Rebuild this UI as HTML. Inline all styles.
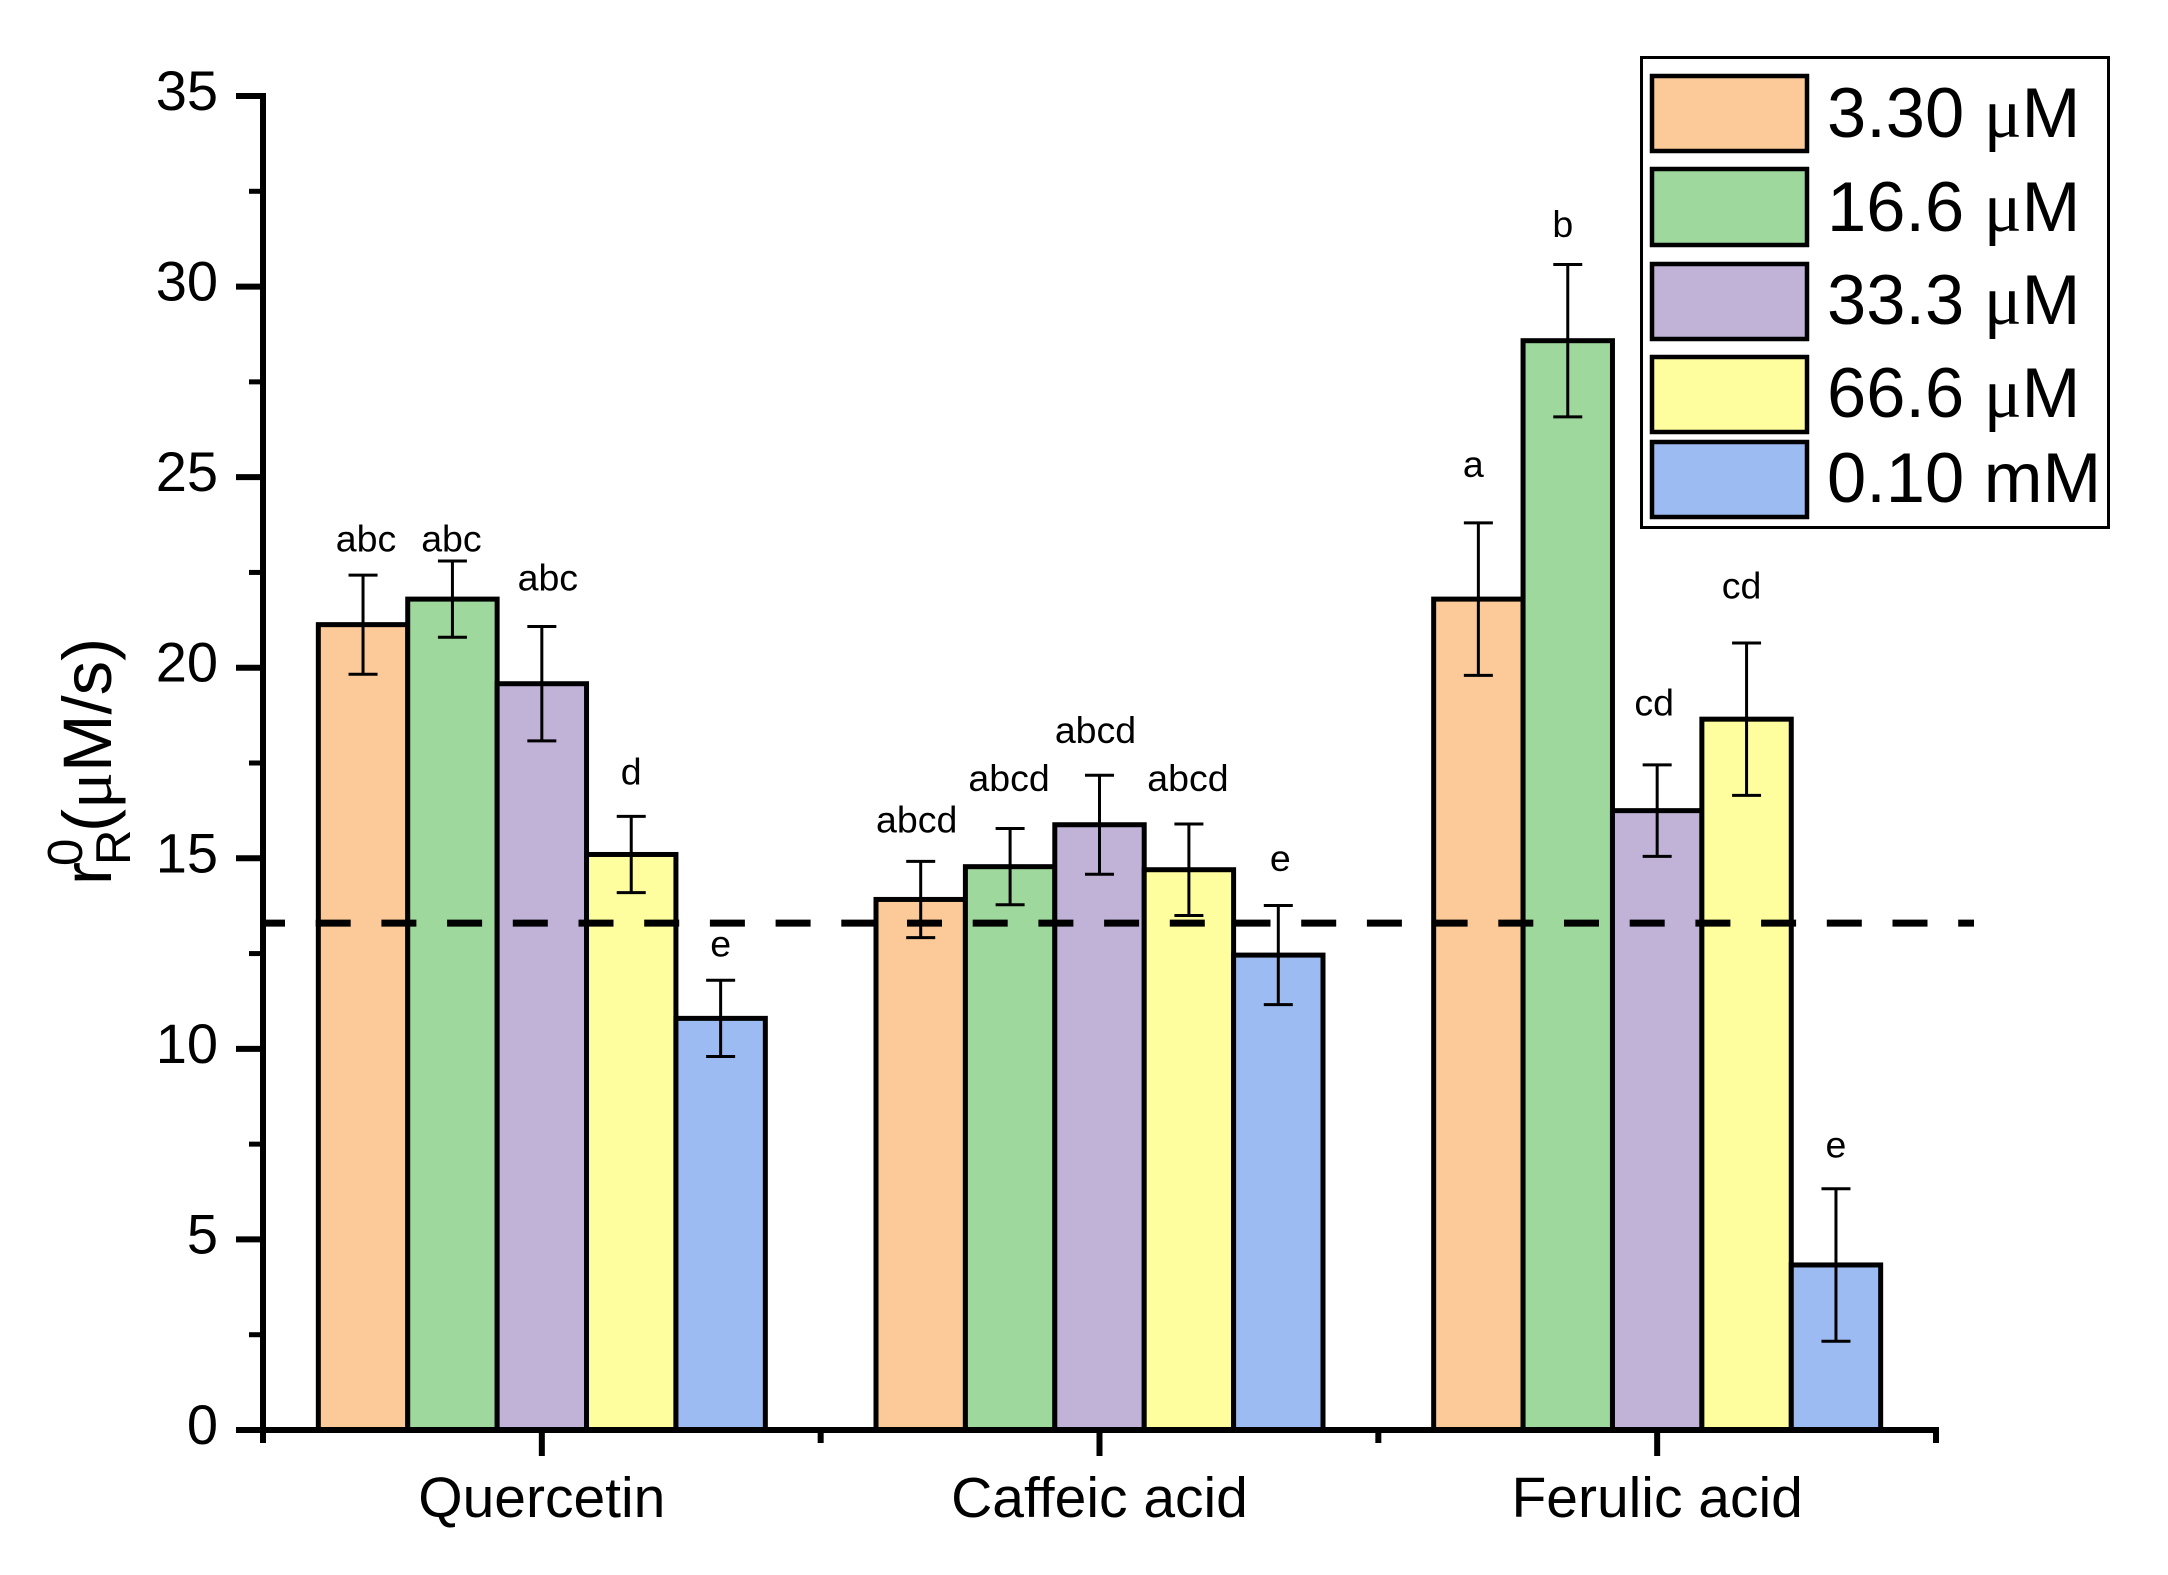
<!DOCTYPE html>
<html lang="en">
<head>
<meta charset="utf-8">
<title>Bar chart of rR0 by compound and concentration</title>
<style>
html,body{margin:0;padding:0;background:#fff;}
svg{display:block;}
text{font-family:"Liberation Sans",sans-serif;fill:#000;}
.mu{font-family:"Liberation Serif",serif;}
.lg{font-size:70.5px;}
</style>
</head>
<body>
<svg id="chart" xmlns="http://www.w3.org/2000/svg" width="2168" height="1575" viewBox="0 0 2168 1575">
  <rect x="0" y="0" width="2168" height="1575" fill="#fff"/>
  <g id="plot"></g>
  <g transform="translate(111,885) rotate(-90)">
    <text x="0" y="0" font-size="69">r</text>
    <text x="20" y="19" font-size="49">R</text>
    <text x="19" y="-29" font-size="49">0</text>
    <text x="53" y="0" font-size="69">(<tspan class="mu">μ</tspan>M/s)</text>
  </g>
  <g>
    <rect x="1641.5" y="57.5" width="467" height="470" fill="#fff" stroke="#000" stroke-width="3"/>
    <rect x="1652" y="76" width="155" height="75" fill="#FCC998" stroke="#000" stroke-width="4.5"/>
    <text class="lg" x="1827" y="137">3.30 <tspan class="mu">μ</tspan>M</text>
    <rect x="1652" y="169" width="155" height="76" fill="#9FD89D" stroke="#000" stroke-width="4.5"/>
    <text class="lg" x="1827" y="231">16.6 <tspan class="mu">μ</tspan>M</text>
    <rect x="1652" y="264" width="155" height="75" fill="#C1B3D7" stroke="#000" stroke-width="4.5"/>
    <text class="lg" x="1827" y="324">33.3 <tspan class="mu">μ</tspan>M</text>
    <rect x="1652" y="357" width="155" height="75" fill="#FFFE9F" stroke="#000" stroke-width="4.5"/>
    <text class="lg" x="1827" y="417">66.6 <tspan class="mu">μ</tspan>M</text>
    <rect x="1652" y="442" width="155" height="75" fill="#9CBBF2" stroke="#000" stroke-width="4.5"/>
    <text class="lg" x="1827" y="502">0.10 mM</text>
  </g>
</svg>
<script>
const categories = ["Quercetin", "Caffeic acid", "Ferulic acid"];
const seriesNames = ["3.30 uM", "16.6 uM", "33.3 uM", "66.6 uM", "0.10 mM"];
const quercetinValues = [21.13, 21.8, 19.58, 15.1, 10.8];
const caffeicValues = [13.92, 14.78, 15.88, 14.7, 12.46];
const ferulicValues = [21.8, 28.58, 16.25, 18.65, 4.33];
const quercetinErrors = [1.3, 1.0, 1.5, 1.0, 1.0];
const caffeicErrors = [1.0, 1.0, 1.3, 1.2, 1.3];
const ferulicErrors = [2.0, 2.0, 1.2, 2.0, 2.0];
const quercetinLetters = ["abc", "abc", "abc", "d", "e"];
const caffeicLetters = ["abcd", "abcd", "abcd", "abcd", "e"];
const ferulicLetters = ["a", "b", "cd", "cd", "e"];
const quercetinLetterLevels = [23.05, 23.05, 22.02, 16.93, 12.42];
const caffeicLetterLevels = [15.67, 16.77, 18.03, 16.77, 14.67];
const ferulicLetterLevels = [25.0, 31.3, 18.75, 21.81, 7.15];
const yTicks = [0, 5, 10, 15, 20, 25, 30, 35];
const yMinorTicks = [2.5, 7.5, 12.5, 17.5, 22.5, 27.5, 32.5];
const controlLevel = 13.3;

const values = [quercetinValues, caffeicValues, ferulicValues];
const errors = [quercetinErrors, caffeicErrors, ferulicErrors];
const letters = [quercetinLetters, caffeicLetters, ferulicLetters];
const letterLevels = [quercetinLetterLevels, caffeicLetterLevels, ferulicLetterLevels];
const fills = ["#FCC998", "#9FD89D", "#C1B3D7", "#FFFE9F", "#9CBBF2"];
const letterNudges = [[3, -1, 6, 0, 0], [-4, -1, -4, -1, 2], [-5, -5, -3, -5, 0]];

const NS = "http://www.w3.org/2000/svg";
const plot = document.getElementById("plot");
const yAxis = v => 1430 - v * (1334 / 35);
const xAxis = v => 263 + (v - 0.5) * (1673 / 3);
const BAR = 89.4;

function mk(tag, attrs, text) {
  const el = document.createElementNS(NS, tag);
  for (const k in attrs) el.setAttribute(k, attrs[k]);
  if (text !== undefined) el.textContent = text;
  plot.appendChild(el);
  return el;
}

// Bars, error bars, letters
categories.forEach((cat, c) => {
  seriesNames.forEach((s, i) => {
    const cx = xAxis(c + 1) + (i - 2) * BAR;
    const v = values[c][i];
    const bar = mk("rect", {x: cx - BAR / 2, y: yAxis(v), width: BAR, height: yAxis(0) - yAxis(v), fill: fills[i], stroke: "#000", "stroke-width": 5});
    
    
  });
  seriesNames.forEach((s, i) => {
    const cx = xAxis(c + 1) + (i - 2) * BAR;
    const v = values[c][i], e = errors[c][i];
    const top = yAxis(v + e), bot = yAxis(v - e);
    const stem = mk("line", {x1: cx, x2: cx, y1: top, y2: bot, stroke: "#000", "stroke-width": 3});
    
    
    const capT = mk("line", {x1: cx - 14.5, x2: cx + 14.5, y1: top, y2: top, stroke: "#000", "stroke-width": 3});
    
    
    const capB = mk("line", {x1: cx - 14.5, x2: cx + 14.5, y1: bot, y2: bot, stroke: "#000", "stroke-width": 3});
    
    
    const lab = mk("text", {x: cx + letterNudges[c][i], y: yAxis(letterLevels[c][i]), "text-anchor": "middle", "font-size": 37.5}, letters[c][i]);
    
    
  });
});

// Dashed control line
const dash = mk("line", {x1: 263, x2: 1974, y1: yAxis(controlLevel), y2: yAxis(controlLevel), stroke: "#000", "stroke-width": 7, "stroke-dasharray": "35 30.7", "stroke-dashoffset": 13});



// Y axis
const yLine = mk("line", {x1: 263, x2: 263, y1: yAxis(35) - 3, y2: yAxis(0) + 13, stroke: "#000", "stroke-width": 6});


yTicks.forEach(t => {
  const tick = mk("line", {x1: 236, x2: 263, y1: yAxis(t), y2: yAxis(t), stroke: "#000", "stroke-width": 6});
  
  
  const lab = mk("text", {x: 218, y: yAxis(t) + 14, "text-anchor": "end", "font-size": 56}, String(t));
  
  
});
yMinorTicks.forEach(t => {
  const tick = mk("line", {x1: 249, x2: 263, y1: yAxis(t), y2: yAxis(t), stroke: "#000", "stroke-width": 5});
  
  
});

// X axis
const xLine = mk("line", {x1: 236, x2: xAxis(3.5) + 3, y1: yAxis(0), y2: yAxis(0), stroke: "#000", "stroke-width": 6});


categories.forEach((cat, c) => {
  const tick = mk("line", {x1: xAxis(c + 1), x2: xAxis(c + 1), y1: yAxis(0), y2: 1456, stroke: "#000", "stroke-width": 6});
  
  
  const lab = mk("text", {x: xAxis(c + 1), y: 1517, "text-anchor": "middle", "font-size": 57}, cat);
  
  
});
[0.5, 1.5, 2.5, 3.5].forEach(t => {
  const tick = mk("line", {x1: xAxis(t), x2: xAxis(t), y1: yAxis(0), y2: 1443, stroke: "#000", "stroke-width": 6});
  
  
});
</script>
</body>
</html>
